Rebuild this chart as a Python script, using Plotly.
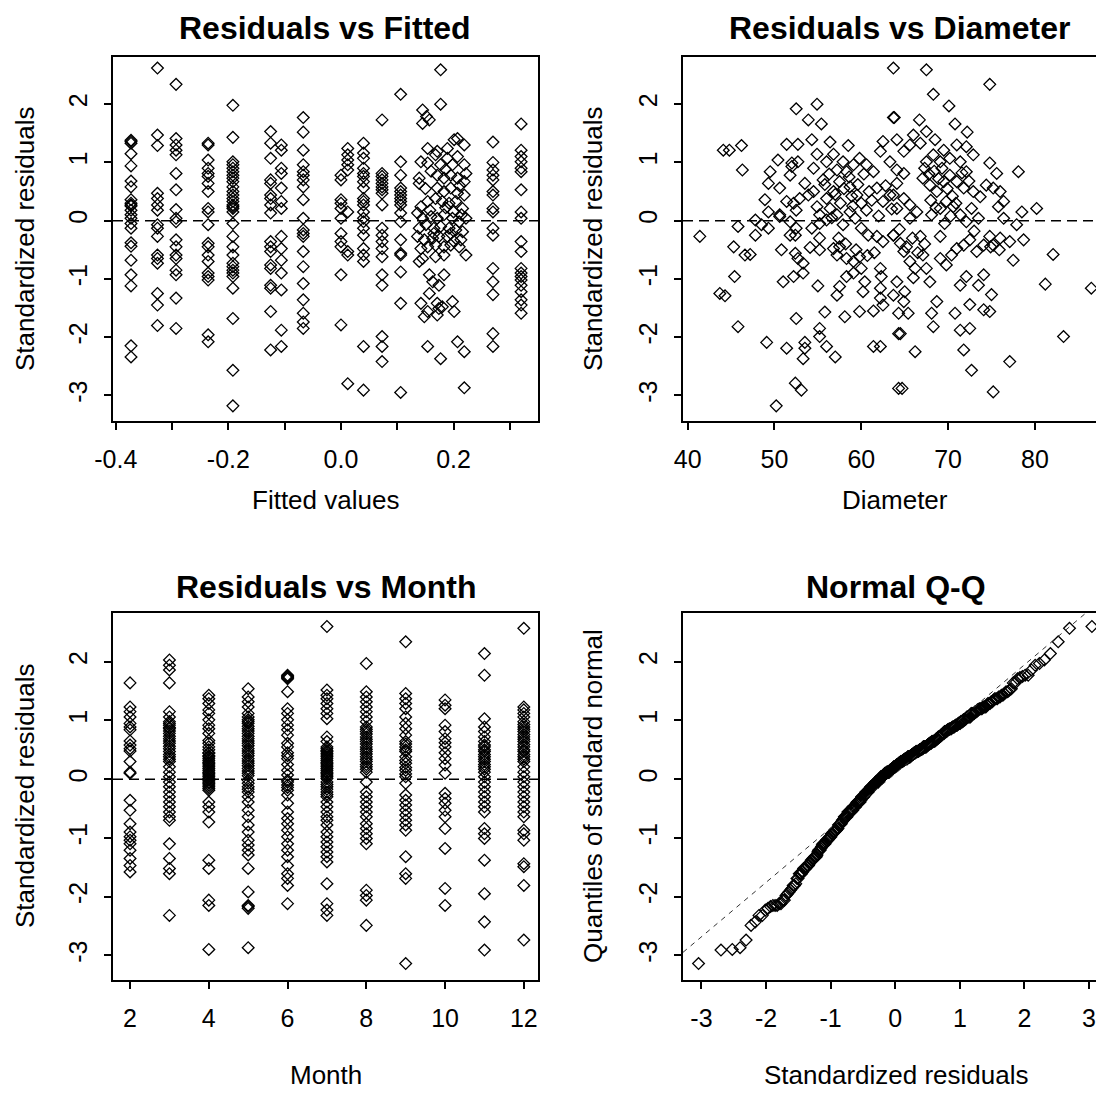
import plotly.graph_objects as go
from statistics import NormalDist
import math

FONT = "Liberation Sans, Arial, sans-serif"
W, H = 1104, 1102
OFF = 8  # page body margin in which the figure sits

# ---------------- Panel 1: Residuals vs Fitted ----------------
fitted_levels = [-0.373, -0.326, -0.293, -0.236, -0.192, -0.125, -0.106, -0.067,
                 0.000, 0.012, 0.040, 0.073, 0.106, 0.270, 0.320]
fitted_resid = [
    [1.38, 1.36, 1.33, 1.15, 0.94, 0.68, 0.58, 0.36, 0.30, 0.27, 0.25, 0.18, 0.10, 0.04, -0.05, -0.13, -0.38, -0.44, -0.68, -0.93, -1.12, -2.15, -2.34],
    [2.62, 1.47, 1.29, 0.47, 0.38, 0.27, 0.18, -0.07, -0.13, -0.27, -0.59, -0.65, -0.73, -1.25, -1.45, -1.80],
    [2.34, 1.41, 1.30, 1.21, 1.13, 0.81, 0.53, 0.19, 0.04, -0.02, -0.33, -0.45, -0.59, -0.65, -0.85, -0.93, -1.33, -1.85],
    [1.33, 1.30, 1.04, 0.90, 0.81, 0.76, 0.64, 0.50, 0.21, 0.15, -0.07, -0.39, -0.45, -0.59, -0.70, -0.90, -0.96, -1.02, -1.96, -2.08],
    [1.98, 1.43, 1.01, 0.96, 0.90, 0.84, 0.78, 0.73, 0.67, 0.58, 0.50, 0.44, 0.38, 0.33, 0.27, 0.24, 0.21, 0.15, -0.05, -0.27, -0.45, -0.59, -0.73, -0.79, -0.85, -0.90, -0.96, -1.16, -1.68, -2.57, -3.18],
    [1.53, 1.33, 1.07, 0.70, 0.64, 0.44, 0.38, 0.27, 0.13, -0.36, -0.45, -0.53, -0.76, -0.82, -1.11, -1.16, -1.56, -2.22],
    [1.30, 1.21, 0.90, 0.81, 0.56, 0.33, 0.21, -0.27, -0.48, -0.68, -0.90, -1.19, -1.88, -2.16],
    [1.77, 1.52, 1.21, 0.96, 0.84, 0.78, 0.70, 0.58, 0.36, 0.04, -0.16, -0.22, -0.27, -0.53, -0.79, -1.08, -1.36, -1.59, -1.74, -1.85],
    [0.78, 0.70, 0.36, 0.30, 0.21, 0.04, -0.22, -0.36, -0.45, -0.93, -1.79],
    [1.24, 1.13, 1.04, 0.96, 0.87, 0.15, -0.53, -0.59, -2.80],
    [1.33, 1.16, 1.07, 0.90, 0.81, 0.76, 0.67, 0.56, 0.38, 0.33, 0.27, 0.15, 0.04, -0.02, -0.13, -0.25, -0.48, -0.59, -0.70, -2.16, -2.91],
    [1.73, 0.81, 0.76, 0.70, 0.64, 0.58, 0.53, 0.47, 0.27, -0.13, -0.25, -0.36, -0.48, -0.62, -0.93, -1.11, -1.99, -2.16, -2.42],
    [2.17, 1.01, 0.78, 0.56, 0.50, 0.44, 0.38, 0.33, 0.27, 0.13, -0.02, -0.33, -0.56, -0.59, -0.88, -1.42, -2.95],
    [1.35, 1.00, 0.87, 0.78, 0.70, 0.50, 0.44, 0.21, 0.15, -0.13, -0.25, -0.82, -1.05, -1.27, -1.94, -2.16],
    [1.66, 1.21, 1.10, 1.01, 0.90, 0.84, 0.53, 0.15, 0.04, -0.36, -0.53, -0.82, -0.90, -0.96, -1.02, -1.11, -1.22, -1.36, -1.45, -1.59],
]
# dense group of fitted values between 0.13 and 0.23 (fitted, residual)
fitted_cluster = [
    (0.145, 1.90), (0.152, 1.79), (0.145, 1.67), (0.157, 1.73), (0.177, 2.59), (0.177, 2.00),
    (0.154, 1.24), (0.171, 1.19), (0.189, 1.24), (0.201, 1.39), (0.207, 1.41), (0.219, 1.30),
    (0.142, 1.01), (0.154, 0.99), (0.139, 0.73), (0.139, 0.64), (0.168, 1.13), (0.177, 0.96),
    (0.189, 1.07), (0.198, 0.96), (0.207, 1.10), (0.219, 0.96), (0.222, 0.81),
    (0.171, 0.78), (0.183, 0.73), (0.195, 0.78), (0.207, 0.73), (0.219, 0.67),
    (0.171, 0.56), (0.183, 0.50), (0.195, 0.56), (0.207, 0.47), (0.219, 0.44),
    (0.142, 0.24), (0.154, 0.33), (0.168, 0.38), (0.180, 0.33), (0.192, 0.30), (0.204, 0.33), (0.216, 0.21),
    (0.136, 0.13), (0.145, 0.04), (0.160, 0.07), (0.171, 0.04), (0.183, 0.10), (0.198, 0.04), (0.210, -0.02), (0.222, 0.04),
    (0.139, -0.13), (0.151, -0.07), (0.165, -0.13), (0.177, -0.10), (0.192, -0.13), (0.204, -0.16), (0.216, -0.19),
    (0.136, -0.27), (0.148, -0.33), (0.163, -0.30), (0.174, -0.27), (0.189, -0.27), (0.201, -0.36), (0.213, -0.33),
    (0.142, -0.48), (0.154, -0.45), (0.168, -0.42), (0.183, -0.45), (0.195, -0.42),
    (0.145, -0.65), (0.139, -0.70), (0.168, -0.62), (0.183, -0.59), (0.222, -0.59),
    (0.157, -0.93), (0.183, -0.93), (0.174, -1.11), (0.163, -1.05), (0.157, -1.25),
    (0.142, -1.42), (0.171, -1.42), (0.180, -1.48), (0.154, -1.56), (0.174, -1.51), (0.201, -1.56), (0.198, -1.39),
    (0.148, -1.65), (0.171, -1.62),
    (0.154, -2.16), (0.177, -2.37), (0.207, -2.08), (0.219, -2.25), (0.219, -2.87),
    (0.150, 0.55), (0.160, 0.85), (0.186, 0.88), (0.211, 0.60), (0.158, 0.18), (0.186, 0.22),
    (0.200, 0.15), (0.214, 0.10), (0.165, -0.22), (0.195, -0.22), (0.210, -0.45),
]

# ---------------- Panel 2: Residuals vs Diameter (diameter, residual) ----------------
diameter_points = [
    (63.7, 2.62), (63.7, 1.77), (63.8, 1.77), (52.5, 1.92), (54.9, 2.00), (53.9, 1.73), (55.4, 1.66),
    (51.4, 1.31), (52.7, 1.31), (54.3, 1.39), (56.4, 1.35), (58.5, 1.29), (44.1, 1.21), (44.8, 1.21),
    (46.2, 1.29), (46.3, 0.87), (50.4, 1.04), (52.0, 0.99), (52.7, 1.01), (54.9, 1.14), (56.0, 1.01),
    (56.8, 1.14), (49.5, 0.84), (49.3, 0.64), (50.6, 0.56), (52.0, 0.93), (51.8, 0.78), (53.5, 0.64),
    (54.5, 0.50), (54.5, 0.90), (55.6, 0.70), (57.2, 0.87), (57.9, 1.01), (59.1, 0.96), (59.8, 1.07),
    (60.6, 0.96), (61.4, 0.84), (62.2, 1.19), (62.5, 1.36), (63.3, 1.01), (64.1, 0.87), (48.9, 0.36),
    (49.3, 0.15), (50.6, 0.10), (51.4, 0.33), (52.2, 0.30), (52.5, 0.18), (52.9, 0.38), (53.9, 0.44),
    (54.9, 0.24), (55.2, 0.10), (56.0, 0.38), (56.4, 0.21), (56.8, 0.50), (57.5, 0.67), (58.3, 0.84),
    (58.7, 0.58), (59.5, 0.44), (60.0, 0.30), (60.6, 0.18), (61.8, 0.56), (62.5, 0.33), (63.3, 0.44),
    (64.1, 0.21), (47.8, 0.01), (48.5, -0.07), (49.3, -0.13), (50.6, 0.07), (51.8, -0.02), (52.5, -0.13),
    (54.3, -0.13), (55.2, -0.05), (56.0, 0.01), (57.2, 0.10), (57.9, -0.07), (58.7, 0.15), (59.3, 0.04),
    (60.0, -0.13), (60.8, -0.25), (61.8, -0.27), (62.5, -0.36), (63.7, -0.25), (41.4, -0.27), (45.8, -0.10),
    (47.8, -0.25), (52.4, -0.25), (45.3, -0.45), (46.6, -0.59), (47.2, -0.58), (45.4, -0.96), (50.8, -0.50),
    (52.4, -0.56), (52.7, -0.65), (54.1, -0.46), (55.2, -0.50), (56.8, -0.48), (57.5, -0.45), (57.2, -0.59),
    (58.3, -0.65), (59.1, -0.70), (59.8, -0.62), (60.0, -0.82), (59.1, -0.90), (58.3, -0.96), (57.5, -1.13),
    (57.2, -1.28), (60.4, -1.05), (60.2, -1.22), (62.2, -0.82), (62.3, -0.96), (62.2, -1.16), (62.2, -1.33),
    (62.5, -1.45), (63.7, -1.28), (64.1, -1.05), (53.3, -0.73), (53.3, -0.90), (52.2, -0.96), (51.0, -1.05),
    (55.0, -1.12), (43.7, -1.25), (44.3, -1.29), (45.8, -1.82), (49.1, -2.09), (51.4, -2.19), (52.5, -1.68),
    (53.5, -2.09), (53.5, -2.19), (53.3, -2.37), (55.2, -1.85), (55.2, -1.99), (56.0, -2.16), (57.0, -2.34),
    (55.8, -1.57), (58.1, -1.65), (59.8, -1.56), (61.4, -1.55), (61.4, -2.16), (62.2, -2.16), (64.3, -1.94),
    (64.3, -2.88), (52.4, -2.79), (53.1, -2.91), (50.2, -3.18), (55.2, -0.30), (51.8, -0.25),
    (67.5, 2.59), (74.8, 2.34), (68.3, 2.17), (70.1, 1.97), (66.7, 1.73), (70.8, 1.66), (72.2, 1.52),
    (66.0, 1.47), (67.5, 1.53), (64.1, 1.39), (64.9, 1.19), (65.6, 1.30), (66.8, 1.33), (68.5, 1.39),
    (69.5, 1.21), (71.0, 1.30), (72.1, 1.27), (72.9, 1.13), (74.8, 0.99), (75.6, 0.81), (78.1, 0.84),
    (67.5, 1.01), (68.3, 1.13), (69.1, 1.01), (70.2, 1.07), (71.4, 1.01), (72.1, 0.84), (64.9, 0.81),
    (64.1, 0.64), (63.7, 0.44), (64.9, 0.38), (65.6, 0.27), (66.4, 0.15), (67.1, 0.73), (67.9, 0.61),
    (68.7, 0.50), (69.5, 0.67), (70.2, 0.78), (71.0, 0.67), (71.8, 0.56), (72.9, 0.50), (73.7, 0.41),
    (74.4, 0.61), (75.2, 0.56), (76.0, 0.50), (76.4, 0.33), (75.8, 0.24), (65.6, 0.04), (68.1, 0.10),
    (69.1, 0.21), (69.8, 0.33), (70.6, 0.24), (71.4, 0.10), (72.1, -0.02), (72.7, 0.21), (73.5, 0.04),
    (76.4, 0.04), (77.9, -0.07), (78.5, 0.15), (80.2, 0.21), (63.7, -0.25), (64.5, -0.39), (64.9, -0.53),
    (65.6, -0.70), (66.2, -0.82), (66.8, -0.27), (67.1, -0.59), (67.5, -0.82), (67.9, -1.05), (69.1, -0.27),
    (69.1, -0.65), (69.8, -0.76), (70.4, -0.59), (71.0, -0.48), (71.8, -0.42), (72.5, -0.33), (73.3, -0.53),
    (74.1, -0.42), (74.8, -0.27), (75.2, -0.42), (76.0, -0.30), (77.1, -0.36), (78.7, -0.33), (77.5, -0.68),
    (82.1, -0.58), (72.1, -0.96), (71.4, -1.11), (73.5, -1.11), (74.1, -0.93), (75.0, -1.27), (74.8, -1.56),
    (74.1, -1.53), (72.5, -1.44), (70.8, -1.59), (68.7, -1.39), (68.1, -1.59), (68.3, -1.82), (65.0, -1.22),
    (64.9, -1.39), (64.3, -1.59), (65.4, -1.59), (64.5, -1.94), (66.2, -2.25), (71.4, -1.88), (72.5, -1.85),
    (71.8, -2.22), (72.7, -2.57), (77.1, -2.42), (75.2, -2.94), (64.7, -2.88), (81.2, -1.09), (86.5, -1.16),
    (83.3, -1.99),
    (55.8, 0.62), (56.3, 0.80), (57.0, 0.45), (57.6, 0.30), (58.0, 0.55), (58.6, 0.75), (59.0, 0.25),
    (59.6, 0.62), (60.3, 0.80), (60.9, 0.50), (56.6, 0.05), (58.9, 0.42), (61.2, 0.35), (62.8, 0.60),
    (63.5, 0.20), (62.0, 0.08), (57.4, -0.30), (58.2, -0.40), (59.4, -0.50), (60.7, -0.60), (61.5, -0.55),
    (67.3, 0.90), (67.8, 0.80), (68.4, 0.85), (68.9, 0.72), (69.3, 0.90), (69.9, 0.55), (70.5, 0.42),
    (68.0, 0.35), (68.6, 0.22), (70.9, 0.30), (71.6, 0.82), (72.4, 0.68), (69.6, -0.05), (70.3, 0.08),
    (64.4, -0.15), (65.2, -0.45), (65.9, -0.30), (66.5, -0.55), (67.3, -0.40), (66.0, -0.98), (74.9, -0.45),
    (75.9, -0.50), (73.0, -0.18),
]

# ---------------- Panel 3: Residuals vs Month ----------------
months = [2, 3, 4, 5, 6, 7, 8, 9, 10, 11, 12]
month_resid = [
    [1.64, 1.23, 1.15, 1.06, 0.95, 0.89, 0.84, 0.58, 0.52, 0.48, 0.12, 0.10, -0.36, -0.53, -0.76, -0.90, -0.98, -1.04, -1.10, -1.21, -1.35, -1.47, -1.58,
     0.65, 0.30],
    [2.03, 1.94, 1.86, 1.64, 1.15, 1.06, 0.98, 0.92, 0.86, 0.78, 0.69, 0.61, 0.52, 0.47, 0.38, 0.30, 0.21, 0.12, 0.04, -0.05, -0.13, -0.22, -0.30, -0.39, -0.47, -0.56, -0.64, -0.70, -1.10, -1.35, -1.52, -1.61, -2.32,
     0.95, 0.88, 0.82, 0.73, 0.65, 0.56, 0.42, 0.34],
    [1.43, 1.37, 1.29, 1.18, 1.12, 1.01, 0.92, 0.86, 0.78, 0.66, 0.61, 0.44, 0.38, 0.32, 0.27, 0.21, 0.15, 0.10, 0.04, -0.02, -0.07, -0.13, -0.19, -0.39, -0.47, -0.56, -0.73, -1.38, -1.52, -2.06, -2.15, -2.90,
     0.40, 0.35, 0.29, 0.24, 0.18, 0.12, 0.07, 0.01, 0.00, -0.05, -0.10, -0.16, 0.45, 0.50, 0.55],
    [1.54, 1.40, 1.32, 1.23, 1.12, 1.06, 1.01, 0.95, 0.86, 0.78, 0.69, 0.61, 0.52, 0.44, 0.35, 0.27, 0.18, 0.10, -0.02, -0.13, -0.22, -0.30, -0.39, -0.53, -0.64, -0.78, -0.90, -1.04, -1.12, -1.21, -1.29, -1.52, -1.92, -2.15, -2.17, -2.20, -2.87,
     0.98, 0.90, 0.82, 0.73, 0.65, 0.57, 0.48, 0.40, 0.31, 0.23, 0.14, 0.06, -0.07, -0.17],
    [1.77, 1.71, 1.49, 1.20, 1.12, 1.01, 0.92, 0.84, 0.75, 0.61, 0.55, 0.35, 0.07, -0.02, -0.10, -0.19, -0.27, -0.41, -0.56, -0.67, -0.76, -0.87, -0.98, -1.10, -1.21, -1.32, -1.47, -1.61, -1.69, -1.81, -2.12,
     1.75, 1.73, -0.05, -0.14, 0.45, 0.40, 0.25, 0.15],
    [2.60, 1.52, 1.43, 1.37, 1.29, 1.20, 1.12, 1.03, 0.72, 0.64, 0.55, 0.49, 0.44, 0.38, 0.32, 0.27, 0.21, 0.15, 0.10, 0.04, -0.05, -0.13, -0.22, -0.30, -0.39, -0.47, -0.56, -0.64, -0.70, -0.78, -0.90, -0.98, -1.07, -1.15, -1.24, -1.32, -1.41, -1.78, -2.12, -2.23, -2.32,
     0.41, 0.35, 0.29, 0.24, 0.18, 0.12, 0.07, 0.47, 0.52, 0.01, -0.09, -0.17, -0.26],
    [1.97, 1.49, 1.40, 1.32, 1.23, 1.15, 1.06, 0.98, 0.89, 0.81, 0.72, 0.64, 0.55, 0.47, 0.38, 0.30, 0.21, 0.12, -0.05, -0.22, -0.30, -0.39, -0.47, -0.56, -0.64, -0.76, -0.84, -0.93, -1.01, -1.10, -1.89, -1.98, -2.06, -2.49,
     0.85, 0.77, 0.68, 0.60, 0.51, 0.43, 0.34, 0.25, 0.17],
    [2.34, 1.46, 1.37, 1.29, 1.20, 1.06, 0.95, 0.86, 0.75, 0.64, 0.55, 0.47, 0.38, 0.27, 0.15, 0.04, -0.07, -0.27, -0.36, -0.44, -0.53, -0.61, -0.70, -0.78, -0.87, -1.32, -1.61, -1.69, -3.14,
     0.60, 0.50, 0.32, 0.20, 0.09],
    [1.35, 1.26, 1.20, 0.92, 0.81, 0.69, 0.55, 0.35, 0.24, -0.24, -0.33, -0.41, -0.53, -0.64, -0.84, -1.18, -1.86, -2.15,
     0.62, 0.45, 0.10],
    [2.14, 1.77, 1.03, 0.89, 0.81, 0.72, 0.64, 0.55, 0.47, 0.38, 0.30, 0.21, 0.12, 0.04, -0.05, -0.13, -0.22, -0.30, -0.39, -0.47, -0.56, -0.84, -0.93, -1.01, -1.38, -1.95, -2.43, -2.91,
     0.58, 0.50, 0.42, 0.34, 0.25, 0.17],
    [2.57, 1.23, 1.18, 1.12, 1.06, 0.98, 0.89, 0.81, 0.72, 0.64, 0.55, 0.47, 0.38, 0.30, 0.21, 0.12, 0.04, -0.05, -0.13, -0.22, -0.30, -0.39, -0.47, -0.56, -0.64, -0.87, -0.93, -1.04, -1.44, -1.49, -1.81, -2.74,
     0.93, 0.85, 0.76, 0.68, 0.59, 0.50, 0.42, 0.34],
]

# tick labels
y_ticks = [-3, -2, -1, 0, 1, 2]
y_ticklabels = ["-3", "-2", "-1", "0", "1", "2"]
fit_ticks = [-0.4, -0.3, -0.2, -0.1, 0.0, 0.1, 0.2, 0.3]
fit_ticklabels = ["-0.4", "", "-0.2", "", "0.0", "", "0.2", ""]
diam_ticks = [40, 50, 60, 70, 80]
month_ticks = [2, 4, 6, 8, 10, 12]
qq_ticks = [-3, -2, -1, 0, 1, 2, 3]
qq_ticklabels = ["-3", "-2", "-1", "0", "1", "2", "3"]

# ---------------- build figure ----------------
fig = go.Figure()
MARK = dict(symbol="diamond-open", size=9, color="black", line=dict(width=1.3, color="black"))


def add_pts(x, y, xa, ya):
    fig.add_trace(go.Scatter(x=x, y=y, mode="markers", xaxis=xa, yaxis=ya, marker=MARK,
                             showlegend=False, hoverinfo="skip", cliponaxis=True))


fx, fy = [], []
for lvl, vals in zip(fitted_levels, fitted_resid):
    fx += [lvl] * len(vals)
    fy += vals
fx += [p[0] for p in fitted_cluster]
fy += [p[1] for p in fitted_cluster]
add_pts(fx, fy, "x", "y")

add_pts([p[0] for p in diameter_points], [p[1] for p in diameter_points], "x2", "y2")

mx, my = [], []
for m, vals in zip(months, month_resid):
    mx += [m] * len(vals)
    my += vals
add_pts(mx, my, "x3", "y3")

# Normal Q-Q (theoretical quantiles vs sorted residuals)
res_sorted = sorted(my)
n = len(res_sorted)
nd = NormalDist()
theo = [nd.inv_cdf((i + 0.5) / n) for i in range(n)]
add_pts(theo, res_sorted, "x4", "y4")


def q7(v, p):
    h = (len(v) - 1) * p
    lo = math.floor(h)
    hi = min(lo + 1, len(v) - 1)
    return v[lo] + (h - lo) * (v[hi] - v[lo])


q1, q3 = q7(res_sorted, 0.25), q7(res_sorted, 0.75)
z1, z3 = nd.inv_cdf(0.25), nd.inv_cdf(0.75)
slope = (q3 - q1) / (z3 - z1)
icpt = q1 - slope * z1
qq_range = [-3.285, 3.27]
fig.add_trace(go.Scatter(x=qq_range, y=[icpt + slope * v for v in qq_range], mode="lines",
                         xaxis="x4", yaxis="y4", line=dict(color="#333333", width=1, dash="5px,5px"),
                         showlegend=False, hoverinfo="skip"))

# ---------------- layout (screen pixel targets shifted by the page offset) ----------------
def px_x(s):
    return (s - OFF) / W


def px_y(s):
    return 1 - (s - OFF) / H


L1, R1 = px_x(113), px_x(538)
L2, R2 = px_x(683), px_x(1106.5)
T1, B1 = px_y(57), px_y(421)
T2, B2 = px_y(613), px_y(980)

TICKFONT = dict(family=FONT, size=25, color="black")


def ax(domain, rng, anchor, tickvals, ticktext, mirror, ylike=False):
    d = dict(domain=domain, range=rng, anchor=anchor, showgrid=False, zeroline=False,
             showline=True, linecolor="black", linewidth=1.5, mirror=mirror,
             ticks="outside", ticklen=7, tickwidth=1.5, tickcolor="black", automargin=False,
             tickvals=tickvals, ticktext=ticktext, tickfont=TICKFONT)
    if ylike:
        d.update(tickangle=-90, ticklabelstandoff=7)
    else:
        d.update(ticklabelstandoff=8)
    return d


layout = dict(
    template="none",
    width=W, height=H, margin=dict(l=0, r=0, t=0, b=0, autoexpand=False),
    paper_bgcolor="white", plot_bgcolor="white", showlegend=False,
    font=dict(family=FONT, color="black"),
    xaxis=ax([L1, R1], [-0.405, 0.350], "y", fit_ticks, fit_ticklabels, True),
    yaxis=ax([B1, T1], [-3.44, 2.81], "x", y_ticks, y_ticklabels, True, True),
    xaxis2=ax([L2, R2], [39.46, 88.25], "y2", diam_ticks, [str(v) for v in diam_ticks], True),
    yaxis2=ax([B1, T1], [-3.44, 2.81], "x2", y_ticks, y_ticklabels, True, True),
    xaxis3=ax([L1, R1], [1.567, 12.36], "y3", month_ticks, [str(v) for v in month_ticks], True),
    yaxis3=ax([B2, T2], [-3.42, 2.83], "x3", y_ticks, y_ticklabels, True, True),
    xaxis4=ax([L2, R2], qq_range, "y4", qq_ticks, qq_ticklabels, True),
    yaxis4=ax([B2, T2], [-3.42, 2.83], "x4", y_ticks, y_ticklabels, True, True),
)
fig.update_layout(**layout)

# zero reference lines
for xa, ya in [("x", "y"), ("x2", "y2"), ("x3", "y3")]:
    fig.add_shape(type="line", xref=f"{xa} domain", yref=ya, x0=0, x1=1, y0=0, y1=0,
                  line=dict(color="black", width=1.5, dash="10px,6px"), layer="above")


def ann(text, x, y, size, angle=0):
    fig.add_annotation(text=text, x=px_x(x), y=px_y(y), xref="paper", yref="paper",
                       xanchor="center", yanchor="middle", showarrow=False, textangle=angle,
                       font=dict(family=FONT, size=size, color="black"))


ann("<b>Residuals vs Fitted</b>", 325, 28, 32)
ann("<b>Residuals vs Diameter</b>", 900, 28, 32)
ann("<b>Residuals vs Month</b>", 326, 587, 32)
ann("<b>Normal Q-Q</b>", 896, 587, 32)
ann("Fitted values", 325, 500, 26)
ann("Diameter", 895, 500, 26)
ann("Month", 326, 1075, 26)
ann("Standardized residuals", 896, 1075, 26)
ann("Standardized residuals", 25, 239, 26, -90)
ann("Standardized residuals", 593, 239, 26, -90)
ann("Standardized residuals", 25, 796, 26, -90)
ann("Quantiles of standard normal", 593, 796, 26, -90)

fig.write_html("out.html")
